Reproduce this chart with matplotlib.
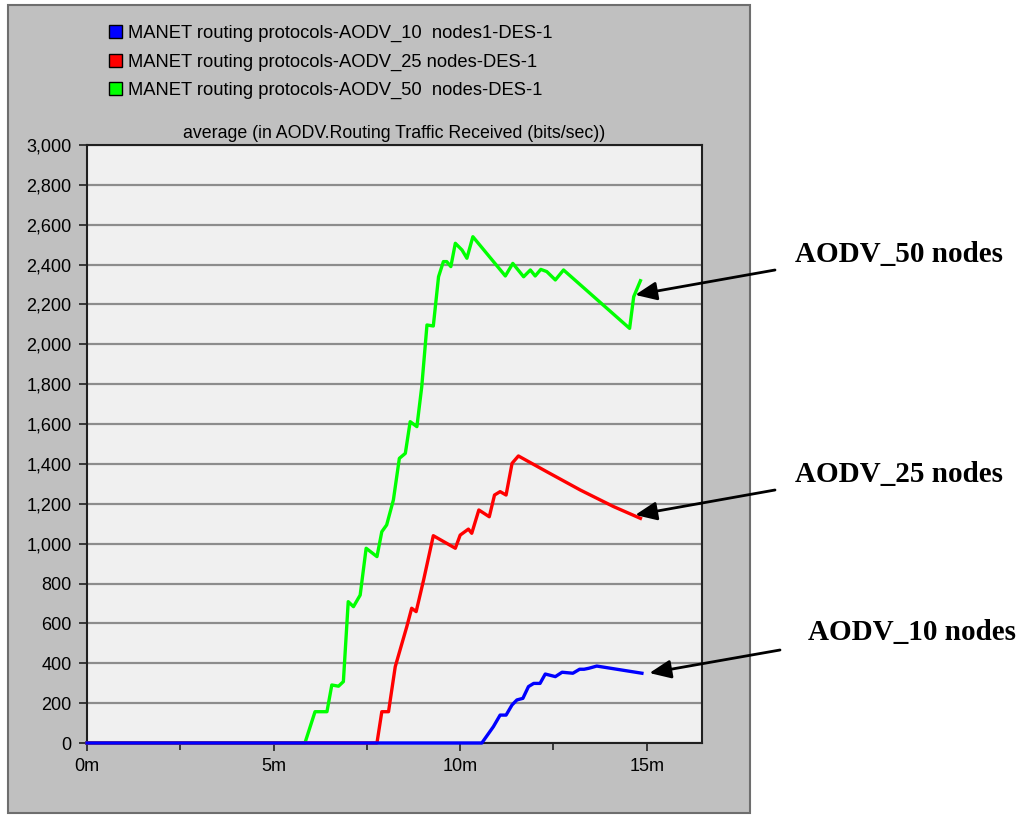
import matplotlib
matplotlib.use("Agg")
import matplotlib.pyplot as plt
from matplotlib.patches import Patch, Rectangle

plt.rcParams['font.family'] = ['Liberation Sans', 'DejaVu Sans']

# Simulation time in minutes, routing traffic received in bits/sec
green_t = [0, 5.84, 6.11, 6.43, 6.56, 6.74, 6.87, 7.0, 7.14, 7.32, 7.48, 7.77, 7.9, 8.03,
           8.21, 8.37, 8.53, 8.66, 8.84, 8.97, 9.11, 9.28, 9.42, 9.55, 9.64, 9.75, 9.87,
           10.05, 10.18, 10.34, 11.21, 11.41, 11.7, 11.88, 12.01, 12.16, 12.32, 12.55,
           12.77, 14.54, 14.65, 14.83]
green_v = [0, 0, 157, 157, 291, 285, 308, 709, 684, 742, 977, 935, 1060, 1094,
           1219, 1428, 1453, 1612, 1587, 1787, 2097, 2092, 2339, 2415, 2415, 2390, 2507,
           2473, 2432, 2540, 2343, 2406, 2339, 2373, 2343, 2376, 2365, 2323,
           2373, 2080, 2239, 2319]

red_t = [0, 7.77, 7.9, 8.08, 8.26, 8.44, 8.57, 8.7, 8.82, 9.02, 9.28, 9.87, 10.0, 10.22,
         10.31, 10.5, 10.78, 10.92, 11.07, 11.23, 11.39, 11.56, 12.32, 13.22, 14.11, 14.83]
red_v = [0, 0, 157, 157, 383, 500, 584, 676, 659, 818, 1040, 977, 1043, 1073,
         1052, 1169, 1135, 1244, 1261, 1244, 1403, 1440, 1361, 1269, 1186, 1127]

blue_t = [0, 10.58, 10.89, 11.07, 11.23, 11.39, 11.52, 11.68, 11.83, 11.97, 12.14, 12.28,
          12.55, 12.73, 13.02, 13.2, 13.32, 13.45, 13.66, 14.87]
blue_v = [0, 0, 82, 140, 140, 191, 216, 224, 283, 299, 299, 346,
          333, 355, 350, 370, 370, 375, 386, 350]

legend_labels = ['MANET routing protocols-AODV_10  nodes1-DES-1',
                 'MANET routing protocols-AODV_25 nodes-DES-1',
                 'MANET routing protocols-AODV_50  nodes-DES-1']
callouts = ['AODV_50 nodes', 'AODV_25 nodes', 'AODV_10 nodes']
y_ticks = list(range(0, 3001, 200))
x_ticks = [0, 5, 10, 15]
x_labels = ['0m', '5m', '10m', '15m']

W, H = 1022, 818
fig = plt.figure(figsize=(W / 100, H / 100), dpi=100)
fig.patch.set_facecolor('white')

# grey window panel behind the graph
fig.patches.append(Rectangle((8 / W, 1 - 813 / H), 742 / W, 808 / H,
                             transform=fig.transFigure, facecolor='#c0c0c0',
                             edgecolor='#6e6e6e', lw=1.5, zorder=-1))

ax = fig.add_axes([87 / W, 1 - 743 / H, 615 / W, 598 / H])
ax.set_zorder(1)
ax.set_facecolor('#f0f0f0')

ax.plot(green_t, green_v, color='#00ff00', lw=2.4, clip_on=False, zorder=3)
ax.plot(red_t, red_v, color='#ff0000', lw=2.4, clip_on=False, zorder=4)
ax.plot(blue_t, blue_v, color='#0000ff', lw=2.4, clip_on=False, zorder=5)

ax.set_xlim(0, 16.48)
ax.set_ylim(0, 3000)
ax.set_yticks(y_ticks)
ax.set_yticklabels([f'{v:,}' for v in y_ticks])
ax.set_xticks(x_ticks)
ax.set_xticklabels(x_labels)
ax.set_xticks([2.5, 7.5, 12.5], minor=True)
ax.tick_params(axis='both', which='major', labelsize=13, length=6, width=1.2,
               color='#202020', pad=5)
ax.tick_params(axis='x', which='minor', length=5, width=1.2, color='#202020')
ax.grid(axis='y', color='#8c8c8c', lw=1.6)
ax.set_axisbelow(True)
for s in ax.spines.values():
    s.set_color('#202020')
    s.set_linewidth(1.5)

ax.set_title('average (in AODV.Routing Traffic Received (bits/sec))', fontsize=12.8, pad=5)

handles = [Patch(facecolor=c, edgecolor='black', lw=1)
           for c in ['#0000ff', '#ff0000', '#00ff00']]
fig.legend(handles, legend_labels, loc='upper left', bbox_to_anchor=(109 / W, 1 - 25 / H),
           frameon=False, fontsize=13.2, handlelength=0.7, handleheight=0.7,
           handletextpad=0.35, labelspacing=0.62, borderpad=0, borderaxespad=0)

# arrows pointing to the end of each curve
tips = [(14.69, 2248), (14.69, 1144), (15.07, 351)]
tails = [(775, 270), (775, 490), (780, 650)]
text_pos = [(795, 255), (795, 475), (808, 633)]
for label, tip, tail, tp in zip(callouts, tips, tails, text_pos):
    ax.annotate('', xy=tip, xycoords='data',
                xytext=(tail[0], H - tail[1]), textcoords='figure pixels',
                arrowprops=dict(arrowstyle='-|>,head_length=0.65,head_width=0.28',
                                mutation_scale=20, color='black', lw=2,
                                shrinkA=0, shrinkB=0), annotation_clip=False)
    fig.text(tp[0] / W, 1 - tp[1] / H, label, fontsize=21, fontweight='bold',
             family='Liberation Serif', va='center', ha='left')

fig.savefig('out.png', dpi=100)
